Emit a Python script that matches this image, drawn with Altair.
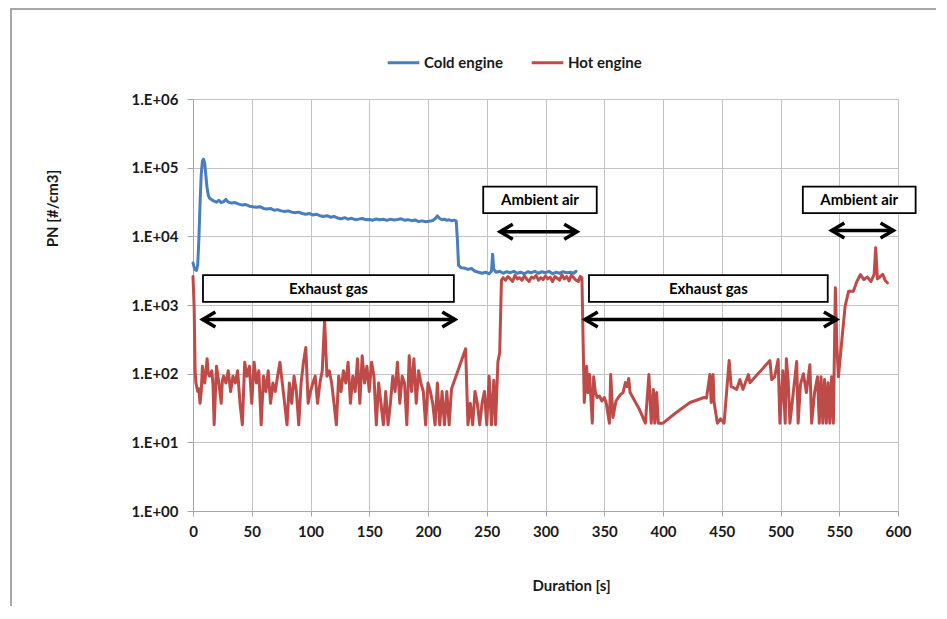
import altair as alt
import pandas as pd
import numpy as np

# ---------------- data ----------------
blue_t = [0, 1.5, 3, 4, 5, 6, 7, 8, 9, 10, 11, 12, 13, 14, 16, 18, 20, 22, 24, 26, 28, 30,
          33, 36, 39, 42, 45, 48, 51, 54, 57, 60, 63, 66, 69, 72, 75, 78, 81, 84, 87, 90,
          93, 96, 99, 102, 105, 108, 111, 114, 117, 120, 123, 126, 129, 132, 135, 138, 141,
          144, 147, 150, 153, 156, 159, 162, 165, 168, 171, 174, 177, 180, 183, 186, 189,
          192, 195, 198, 201, 204, 206, 208, 210, 212, 214, 216, 218, 220, 222, 224, 225,
          226, 228, 231, 234, 237, 240, 243, 246, 249, 252, 254, 255, 256, 258, 261, 264,
          267, 270, 273, 276, 279, 282, 285, 288, 291, 294, 297, 300, 303, 306, 309, 312,
          315, 318, 321, 324, 326]
blue_v = [4100, 3300, 3200, 3800, 9000, 30000, 80000, 125000, 133000, 115000, 75000, 50000,
          40000, 36000, 34000, 32500, 31500, 33500, 31000, 32000, 34500, 31500,
          30500, 31000, 29500, 28500, 29000, 27500, 27000, 26500, 27000, 25500, 25000, 25500,
          24000, 24500, 23500, 23000, 23500, 22500, 22000, 22500,
          21500, 21000, 21500, 20500, 21000, 20000, 19500, 20000, 19000, 19500, 18500, 18000,
          18700, 17800, 18300, 17500, 17800,
          18200, 17500, 17600, 17200, 17900, 17400, 17700, 17100, 17800, 17300, 17600, 18000,
          17200, 17500, 16900, 17300,
          16400, 16800, 16300, 16600, 17000, 18000, 19800, 18200, 17400, 17800, 17100, 17400,
          16900, 17200, 16800, 9000,
          3800, 3500, 3450, 3300, 3400, 3100, 3000, 2900, 3000, 2850, 3100, 5500, 3300, 3000,
          3100, 2900,
          3050, 2950, 3100, 2900, 3000, 2850, 3050, 2950, 3100, 2900, 3050, 2950, 3100, 2850,
          3000, 2900,
          3050, 2950, 3000, 2900, 3100]

red_t = [0, 1, 1.8, 2.5, 4, 5, 6, 7, 8, 9, 10, 12, 13, 14, 16, 17, 18, 20, 22, 24, 25, 26,
         28, 30, 32, 34, 36, 38, 40, 42, 44, 46, 48, 50, 52, 54, 56, 58, 60, 62, 64, 66, 68,
         70, 72, 74, 76, 78, 80, 82, 84, 86, 88, 90, 92, 94, 96, 98, 100, 102, 104, 106,
         108, 110, 112, 114, 116, 118, 120, 122, 124, 126, 128, 130, 132, 134, 136, 138,
         140, 142, 144, 146, 148, 150, 152, 154, 156, 158, 160, 162, 164, 166, 168, 170,
         172, 174, 176, 178, 180, 182, 184, 186, 188, 190, 192, 194, 196, 198, 200, 202,
         204, 206, 208, 210, 212, 214, 216, 218, 220, 232, 234, 236, 238, 240, 242, 244,
         246, 248, 250, 252, 254, 256, 257.5, 259.5, 261, 262.5,
         264, 266, 268, 270, 272, 274, 276, 278, 280, 282, 284, 286, 288, 290, 292, 294,
         296, 298, 300, 302, 304, 306, 308, 310, 312, 314, 316, 318, 320, 322, 324, 326,
         328, 329.5, 331,
         333, 335, 336, 337.5, 339.8, 341, 342.5, 344, 346, 348, 350, 351.6, 354.4, 355.5,
         357.4, 360, 362, 364, 366, 368, 369.5, 370.8, 372, 376, 380, 385, 388, 390, 391.8,
         393, 394.6, 396, 400, 411, 423, 435, 437, 439.9, 441, 442.6, 443.5, 446.3, 449,
         452, 456.3, 458, 462.7, 465.5, 468, 472.7, 474, 491, 492.5, 495, 498, 499.5, 502,
         504, 505, 506.5, 508, 513.8, 515, 517, 519.5, 522, 525, 526.5, 529, 531.5, 533,
         534.5, 536, 537.5, 539, 540.5, 542, 543.5, 545,
         546.7, 548, 549.3, 552, 555, 558, 562, 565, 568, 571, 574, 577, 579.7, 581, 582.5,
         585, 587, 589, 591]
red_v = [2600, 900, 110, 73, 55, 60, 37, 55, 128, 90, 73, 165, 100, 92, 110, 70, 18, 128, 73,
         37, 80, 92, 73, 110, 55, 92, 73, 110, 37, 18, 147, 92, 128, 37, 147, 73, 110, 18,
         92, 55, 110, 37, 73, 55, 92, 147, 73, 37, 18, 73, 37, 92, 55, 18, 73, 147, 240, 37,
         55, 73, 92, 37, 73, 110, 600, 92, 110, 73, 37, 18, 92, 55, 110, 73, 147, 37, 92,
         55, 165, 37, 183, 73, 128, 55, 147, 92, 18, 73, 37, 18, 55, 18, 37, 92, 55, 147,
         37, 92, 73, 18, 183, 55, 165, 37, 110, 73, 55, 18, 73, 55, 37, 18, 73, 18, 55, 18,
         55, 18, 60, 230, 18, 37, 18, 55, 37, 18, 37, 55, 18, 92, 18, 80, 18, 150, 200, 2300,
         2500, 2300, 2600, 2400, 2200, 2700, 2400, 2500, 2300, 2650, 2400, 2200, 2550, 2450,
         2700, 2300, 2500, 2350, 2650, 2400, 2550, 2200, 2600, 2450, 2300, 2750, 2400, 2600,
         2250, 2700, 2500, 2300, 2200, 2600, 2500,
         38, 128, 53, 97, 19, 90, 53, 45, 47, 40, 45, 38, 19, 97, 23, 40, 45, 50, 53, 74, 65,
         85, 53, 40, 30, 19, 97, 19, 59, 19, 53, 19, 19, 27, 38, 45, 44, 97, 38, 97, 38, 19,
         22, 19, 155, 65, 59, 82, 59, 97, 74, 155, 82, 90, 161, 19, 110, 19, 165, 82, 19,
         150, 19, 70, 100, 53, 135, 19, 53, 90, 19, 90, 19, 82, 19, 74, 19, 90, 19,
         1780, 250, 90, 280, 960, 1590, 1590, 2200, 2770, 2350, 2550, 2200, 2800, 6800, 2400,
         2600, 2800, 2300, 2100]

series_names = ["Cold engine", "Hot engine"]
series_colors = ["#4a7ebb", "#be4b48"]

box_x1 = [8.5, 247, 337, 519]
box_x2 = [222, 343.6, 540.2, 615]
box_lo = [1110, 21800, 1110, 21800]
box_hi = [2720, 53100, 2720, 53100]
box_text = ["Exhaust gas", "Ambient air", "Exhaust gas", "Ambient air"]

arrow_x1 = [8.2, 261.3, 333.6, 543.5]
arrow_x2 = [223, 326.8, 547.8, 596]
arrow_y = [614, 11670, 614, 12200]

x_ticks = list(range(0, 601, 50))
y_ticks = [1, 10, 100, 1000, 10000, 100000, 1000000]

# ---------------- tables ----------------
lines = pd.DataFrame({
    "t": blue_t + red_t,
    "v": blue_v + red_v,
    "series": [series_names[0]] * len(blue_t) + [series_names[1]] * len(red_t),
})
boxes = pd.DataFrame({"t": box_x1, "t2": box_x2, "v": box_lo, "v2": box_hi, "label": box_text})
boxes["tc"] = (boxes["t"] + boxes["t2"]) / 2
boxes["vc"] = np.sqrt(boxes["v"] * boxes["v2"])
arrows = pd.DataFrame({"t": arrow_x1, "t2": arrow_x2, "v": arrow_y})

FONT = "Lato"
TXT = "#1a1a1a"
GRID = "#c3c3c3"
AX = "#a6a6a6"

xscale = alt.Scale(domain=[0, 600], nice=False, zero=False)
yscale = alt.Scale(type="log", domain=[1, 1000000], nice=False)

xaxis = alt.Axis(values=x_ticks, title="Duration [s]", grid=True, gridColor=GRID, gridWidth=1,
                 domainColor=AX, tickColor=AX, tickSize=5, labelPadding=8,
                 labelFont=FONT, labelFontSize=15, labelFontWeight="bold", labelColor=TXT,
                 labelFlush=False, labelOverlap=False,
                 titleFont=FONT, titleFontSize=15, titleFontWeight="bold", titleColor=TXT,
                 titleX=378, titleY=74, titleBaseline="middle", titleAlign="center")
yaxis = alt.Axis(values=y_ticks, labelExpr="'1.E+0' + round(log(datum.value) / LN10)",
                 title="PN [#/cm3]", grid=True, gridColor=GRID, gridWidth=1,
                 domainColor=AX, tickColor=AX, tickSize=6, labelPadding=9,
                 labelFont=FONT, labelFontSize=15, labelFontWeight="bold", labelColor=TXT,
                 labelFlush=False, labelOverlap=False,
                 titleFont=FONT, titleFontSize=15, titleFontWeight="bold", titleColor=TXT,
                 titleX=-141, titleY=109, titleBaseline="middle", titleAlign="center")

X = alt.X("t:Q", scale=xscale, axis=xaxis)
Y = alt.Y("v:Q", scale=yscale, axis=yaxis)

legend = alt.Legend(title=None, orient="none", legendX=193, legendY=-54, direction="horizontal",
                    symbolType="stroke", symbolStrokeWidth=3, symbolSize=1000,
                    labelFont=FONT, labelFontSize=15, labelFontWeight="bold", labelColor=TXT,
                    columnPadding=22, labelOffset=3, padding=0)
C = alt.Color("series:N", scale=alt.Scale(domain=series_names, range=series_colors), legend=legend)

base = alt.Chart(lines)
blue_line = base.transform_filter(alt.datum.series == series_names[0]).mark_line(
    strokeWidth=3, strokeJoin="round", strokeCap="round").encode(x=X, y=Y, color=C)
red_line = base.transform_filter(alt.datum.series == series_names[1]).mark_line(
    strokeWidth=3, strokeJoin="round", strokeCap="round").encode(x=X, y=Y, color=C)

frame = alt.Chart(pd.DataFrame({"a": [0]})).mark_rect(
    fill="white", fillOpacity=0, stroke="#8c8c8c", strokeWidth=1.5).encode(
    x=alt.value(-182), x2=alt.value(780), y=alt.value(-90), y2=alt.value(560))

box_layer = alt.Chart(boxes).mark_rect(fill="white", stroke="black", strokeWidth=1.8).encode(
    x=X, x2="t2:Q", y=Y, y2="v2:Q")
text_layer = alt.Chart(boxes).mark_text(font=FONT, fontSize=15, fontWeight="bold", color="black",
                                        align="center", baseline="middle").encode(
    x=alt.X("tc:Q", scale=xscale, axis=xaxis), y=alt.Y("vc:Q", scale=yscale, axis=yaxis),
    text="label:N")
rule_layer = alt.Chart(arrows).mark_rule(color="black", strokeWidth=3.5).encode(
    x=X, x2="t2:Q", y=Y)
left_heads = alt.Chart(arrows).mark_point(shape="M1.7,-1L0,0L1.7,1", filled=False, size=225,
                                          strokeWidth=3.5, color="black", opacity=1,
                                          strokeJoin="miter").encode(x=X, y=Y)
right_heads = alt.Chart(arrows).mark_point(shape="M-1.7,-1L0,0L-1.7,1", filled=False, size=225,
                                           strokeWidth=3.5, color="black", opacity=1,
                                           strokeJoin="miter").encode(
    x=alt.X("t2:Q", scale=xscale, axis=xaxis), y=Y)

chart = alt.layer(frame, blue_line, red_line, box_layer, text_layer, rule_layer,
                  left_heads, right_heads).properties(
    width=705, height=412,
    padding={"left": 185, "top": 91, "right": 38, "bottom": 95},
    autosize=alt.AutoSizeParams(type="none"),
    background="white",
).configure_view(strokeWidth=0)

chart.save("out.html", embed_options={"renderer": "svg", "actions": False})
